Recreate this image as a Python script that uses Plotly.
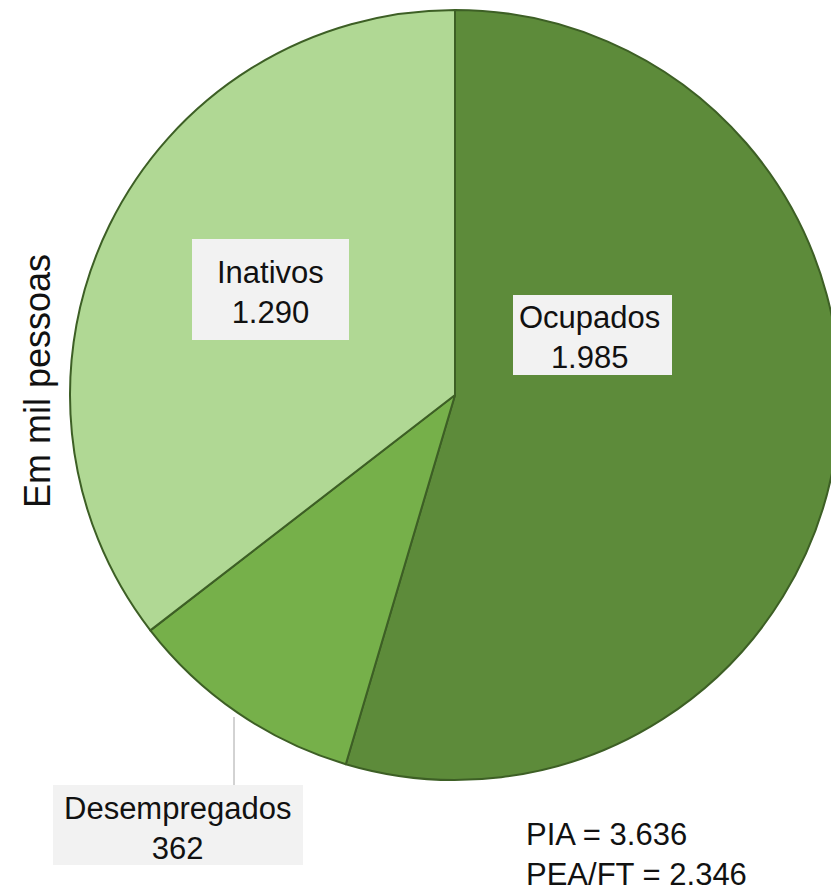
import plotly.graph_objects as go

categories = ["Ocupados", "Desempregados", "Inativos"]
values = [1985, 362, 1290]
value_labels = ["1.985", "362", "1.290"]
colors = ["#5d8b3a", "#76b04a", "#b0d894"]
summary_lines = ["PIA = 3.636", "PEA/FT = 2.346"]
axis_title = "Em mil pessoas"

W, H = 839, 891
OFF = 8  # page body margin offset


def px(x):
    return (x - OFF) / W


def py(y):
    return 1 - (y - OFF) / H


fig = go.Figure()
fig.add_trace(go.Pie(
    labels=categories,
    values=values,
    sort=False,
    direction="clockwise",
    rotation=0,
    marker=dict(colors=colors, line=dict(color="#3d5f25", width=2)),
    textinfo="none",
    hoverinfo="label+value",
    showlegend=False,
    domain=dict(x=[px(70), px(840)], y=[py(780), py(10)]),
))

FAM = "Liberation Sans, Arial, sans-serif"
font = dict(family=FAM, size=31, color="#111111")

# label boxes: (x0, y0, x1, y1) in screen px
label_boxes = {
    "Ocupados": (513, 295, 672, 375),
    "Desempregados": (53, 785, 303, 865),
    "Inativos": (192, 239, 349, 340),
}
label_centers = {
    "Ocupados": (589, 337),
    "Desempregados": (177, 828),
    "Inativos": (270, 292),
}
for cat, vl in zip(categories, value_labels):
    x0, y0, x1, y1 = label_boxes[cat]
    fig.add_shape(type="rect", xref="paper", yref="paper",
                  x0=px(x0), x1=px(x1), y0=py(y1), y1=py(y0),
                  fillcolor="#f2f2f2", line=dict(width=0), layer="above")
    cx, cy = label_centers[cat]
    fig.add_annotation(
        x=px(cx), y=py(cy), xref="paper", yref="paper",
        text=f"{cat}<br>{vl}", showarrow=False, font=font,
        xanchor="center", yanchor="middle", align="center",
    )

# leader line for Desempregados
fig.add_shape(type="line", xref="paper", yref="paper",
              x0=px(234), x1=px(234), y0=py(717), y1=py(785),
              line=dict(color="#a6a6a6", width=1))

fig.add_annotation(
    x=px(524), y=py(854), xref="paper", yref="paper",
    text="<br>".join(summary_lines), showarrow=False,
    font=dict(family=FAM, size=31, color="#111111"),
    xanchor="left", yanchor="middle", align="left",
)

fig.add_annotation(
    x=px(37), y=py(381), xref="paper", yref="paper",
    text=axis_title, showarrow=False, textangle=-90,
    xanchor="center", yanchor="middle",
    font=dict(family=FAM, size=36, color="#111111"),
)

fig.update_layout(
    width=W, height=H,
    margin=dict(l=0, r=0, t=0, b=0),
    paper_bgcolor="white", plot_bgcolor="white",
)

fig.write_html("out.html")
